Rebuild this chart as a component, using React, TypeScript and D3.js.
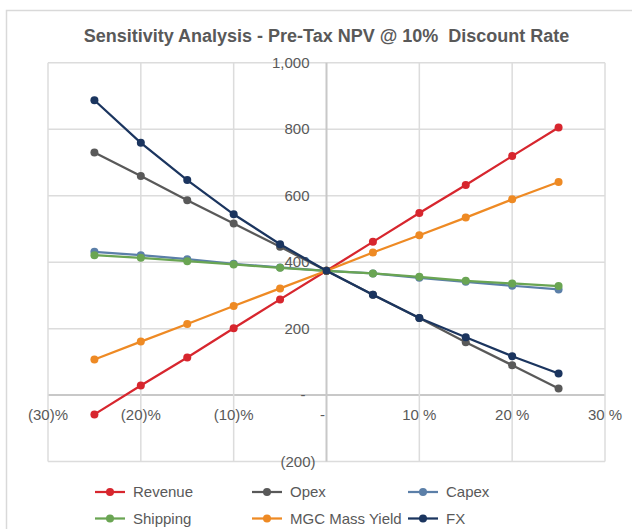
import React from "react";
import * as d3 from "d3";

const sensitivities = [-25, -20, -15, -10, -5, 0, 5, 10, 15, 20, 25];
const revenue = [-58, 29, 113, 201, 288, 374, 461, 548, 632, 719, 805];
const opex = [730, 659, 586, 516, 446, 374, 302, 232, 159, 90, 20];
const capex = [431, 421, 409, 395, 384, 374, 366, 353, 341, 329, 318];
const shipping = [421, 413, 403, 393, 383, 374, 366, 356, 344, 336, 328];
const mgcYield = [107, 161, 214, 268, 321, 374, 429, 481, 534, 589, 641];
const fx = [887, 759, 647, 544, 454, 374, 302, 232, 174, 117, 65];

const seriesNames = ["Revenue", "Opex", "Capex", "Shipping", "MGC Mass Yield", "FX"];
const seriesValues = [revenue, opex, capex, shipping, mgcYield, fx];
const seriesColors = ["#d7262e", "#595959", "#5b7fa8", "#6aa553", "#ee8a24", "#1b355f"];

const xTicks = [-30, -20, -10, 0, 10, 20, 30];
const xTickLabels = ["(30)%", "(20)%", "(10)%", "-", "10 %", "20 %", "30 %"];
const yTicks = [-200, 0, 200, 400, 600, 800, 1000];
const yTickLabels = ["(200)", "-", "200", "400", "600", "800", "1,000"];

const title = "Sensitivity Analysis - Pre-Tax NPV @ 10%\u00a0 Discount Rate";

const W = 632;
const H = 529;
const FONT = "'Liberation Sans', Arial, Helvetica, sans-serif";
const TEXT = "#595959";

export default function App() {
  const x = d3.scaleLinear().domain([-30, 30]).range([48, 605]);
  const y = d3.scaleLinear().domain([-200, 1000]).range([461.6, 62.7]);
  const line = d3
    .line<[number, number]>()
    .x((d) => x(d[0]))
    .y((d) => y(d[1]));

  const legendCols = [95, 252, 408];
  const legendRows = [492, 518.5];

  return (
    <svg
      width={W}
      height={H}
      style={{ position: "absolute", left: 0, top: 0, background: "#fff" }}
      fontFamily={FONT}
    >
      <rect x={0} y={0} width={W} height={H} fill="#fff" />
      <rect x={6.5} y={10.5} width={700} height={600} fill="#fff" stroke="#d9d9d9" strokeWidth={1.5} />

      <text x={326.5} y={41.5} textAnchor="middle" fontSize={18} fontWeight="bold" fill={TEXT}>
        {title}
      </text>

      {yTicks.map((t) => (
        <line
          key={"hy" + t}
          x1={x(-30)}
          x2={x(30)}
          y1={y(t)}
          y2={y(t)}
          stroke={t === 0 ? "#c8c8c8" : "#dcdcdc"}
          strokeWidth={t === 0 ? 2 : 1.5}
        />
      ))}
      {xTicks.map((t) => (
        <line
          key={"vx" + t}
          x1={x(t)}
          x2={x(t)}
          y1={y(1000)}
          y2={y(-200)}
          stroke={t === 0 ? "#c8c8c8" : "#dcdcdc"}
          strokeWidth={t === 0 ? 2 : 1.5}
        />
      ))}

      {yTicks.map((t, i) => {
        const lab = yTickLabels[i];
        const isDash = lab === "-";
        const xx = isDash ? x(0) - 21 : lab.endsWith(")") ? x(0) - 11 : x(0) - 17;
        return (
          <text
            key={"yl" + t}
            x={xx}
            y={y(t) + 5}
            textAnchor="end"
            fontSize={15}
            fill={TEXT}
          >
            {lab}
          </text>
        );
      })}

      {xTicks.map((t, i) => (
        <text
          key={"xl" + t}
          x={x(t) + (t === 0 ? -4 : 0)}
          y={420}
          textAnchor="middle"
          fontSize={15}
          fill={TEXT}
        >
          {xTickLabels[i]}
        </text>
      ))}

      {seriesValues.map((vals, si) => {
        const pts: [number, number][] = sensitivities.map((s, j) => [s, vals[j]]);
        return (
          <g key={seriesNames[si]}>
            <path d={line(pts) || ""} fill="none" stroke={seriesColors[si]} strokeWidth={2.25} />
            {pts.map((p, j) => (
              <circle key={j} cx={x(p[0])} cy={y(p[1])} r={4} fill={seriesColors[si]} />
            ))}
          </g>
        );
      })}

      {seriesNames.map((name, i) => {
        const cx = legendCols[i % 3];
        const cy = legendRows[Math.floor(i / 3)];
        return (
          <g key={"lg" + name}>
            <line x1={cx} x2={cx + 30} y1={cy} y2={cy} stroke={seriesColors[i]} strokeWidth={2.25} />
            <circle cx={cx + 15} cy={cy} r={4} fill={seriesColors[i]} />
            <text x={cx + 38} y={cy + 5} fontSize={15} fill={TEXT}>
              {name}
            </text>
          </g>
        );
      })}
    </svg>
  );
}
